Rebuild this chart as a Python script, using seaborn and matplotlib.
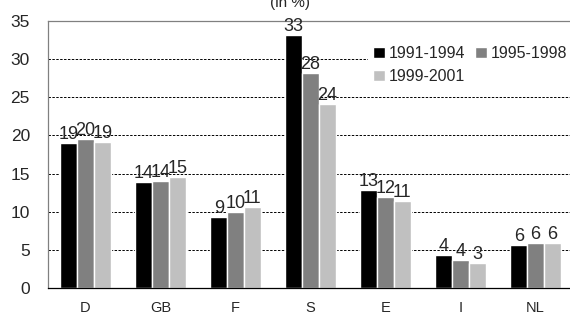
import pandas as pd
import seaborn as sns
import matplotlib.pyplot as plt
from matplotlib.ticker import MultipleLocator, FixedLocator

# Daten (in %)
laender = ['D', 'GB', 'F', 'S', 'E', 'I', 'NL']
perioden = ['1991-1994', '1995-1998', '1999-2001']
werte_1991 = [19.0, 13.9, 9.3, 33.2, 12.8, 4.3, 5.6]
werte_1995 = [19.5, 14.0, 9.9, 28.2, 11.9, 3.7, 5.9]
werte_1999 = [19.1, 14.6, 10.6, 24.1, 11.4, 3.3, 5.9]
farben = ['#000000', '#808080', '#c0c0c0']

df = pd.DataFrame({
    'Land': laender * 3,
    'Periode': [perioden[0]] * 7 + [perioden[1]] * 7 + [perioden[2]] * 7,
    'Wert': werte_1991 + werte_1995 + werte_1999,
})

sns.set_style('white')
plt.rcParams['font.family'] = ['Liberation Sans', 'DejaVu Sans']

fig = plt.figure(figsize=(5.7, 3.19), dpi=100)
ax = fig.add_axes([48 / 570, 31 / 319, 525 / 570, 267 / 319])

sns.barplot(data=df, x='Land', y='Wert', hue='Periode', palette=farben,
            width=0.67, saturation=1, errorbar=None, ax=ax, zorder=2)

# Beschriftung der Balken
for cont in ax.containers:
    for bar in cont:
        h = bar.get_height()
        ax.annotate(f'{h:.0f}', (bar.get_x() + bar.get_width() / 2, h),
                    xytext=(0, 0), textcoords='offset points',
                    ha='center', va='bottom', fontsize=13, zorder=3)

ax.set_ylim(0, 35)
ax.set_xlim(-0.5, 6.5)
ax.yaxis.set_major_locator(MultipleLocator(5))
ax.set_xlabel('')
ax.set_ylabel('')
ax.tick_params(axis='y', length=0, pad=13, labelsize=12.5)
ax.tick_params(axis='x', which='major', length=0, pad=9, labelsize=10.5)
ax.xaxis.set_minor_locator(FixedLocator([i - 0.5 for i in range(8)]))
ax.tick_params(axis='x', which='minor', length=5, width=0.8, color='#555555', direction='out')

for y in range(5, 35, 5):
    ax.axhline(y, color='black', linestyle=(0, (2.5, 1.5)), linewidth=0.7, zorder=1)

ax.spines['left'].set_color('#808080')
ax.spines['top'].set_color('#808080')
ax.spines['right'].set_visible(False)
ax.spines['bottom'].set_color('black')
for s in ax.spines.values():
    s.set_linewidth(0.9)

# Legende zeilenweise: 1991 | 1995 / 1999
handles, labels = ax.get_legend_handles_labels()
order = [0, 2, 1]
leg = ax.legend([handles[i] for i in order], [labels[i] for i in order],
                ncol=2, loc='upper left', bbox_to_anchor=(0.61, 0.924),
                frameon=True, fontsize=11.5, handlelength=0.75, handleheight=0.75,
                handletextpad=0.25, columnspacing=0.6, labelspacing=0.5,
                borderpad=0.3, borderaxespad=0)
leg.get_frame().set_edgecolor('none')
leg.get_frame().set_facecolor('white')
leg.get_frame().set_alpha(1)
leg.set_zorder(4)

fig.text(290 / 570, 1 - 3 / 319, '(in %)', ha='center', va='center', fontsize=11)

fig.savefig('out.png', dpi=100)
